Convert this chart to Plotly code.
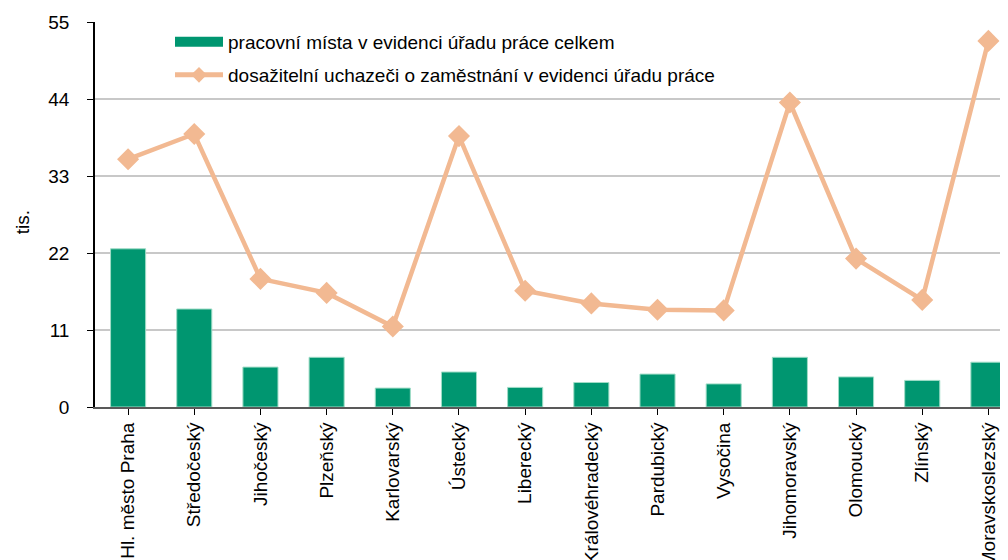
import plotly.graph_objects as go

categories = ["Hl. město Praha", "Středočeský", "Jihočeský", "Plzeňský", "Karlovarský",
              "Ústecký", "Liberecký", "Královéhradecký", "Pardubický", "Vysočina",
              "Jihomoravský", "Olomoucký", "Zlínský", "Moravskoslezský"]
pracovni_mista = [22.6, 14.0, 5.7, 7.1, 2.7, 5.0, 2.8, 3.5, 4.7, 3.3, 7.1, 4.3, 3.8, 6.4]
uchazeci = [35.4, 39.0, 18.3, 16.3, 11.5, 38.7, 16.6, 14.8, 13.9, 13.8, 43.5, 21.2, 15.3, 52.3]
y_ticks = [0, 11, 22, 33, 44, 55]

name_bar = "pracovní místa v evidenci úřadu práce celkem"
name_line = "dosažitelní uchazeči o zaměstnání v evidenci úřadu práce"

FONT = "Liberation Sans, Arial, sans-serif"
GREEN = "#009670"
PEACH = "#f2b992"
x_idx = list(range(len(categories)))

fig = go.Figure()
fig.add_trace(go.Bar(
    x=x_idx, y=pracovni_mista, name=name_bar, width=0.53,
    marker=dict(color=GREEN, line=dict(color="#9fdcc6", width=1)),
    showlegend=False,
))
# legend entry for the bars (wide rectangle swatch like the original)
fig.add_trace(go.Scatter(
    x=[None], y=[None], name=name_bar, mode="lines",
    line=dict(color=GREEN, width=12), legend="legend", hoverinfo="skip",
))
fig.add_trace(go.Scatter(
    x=x_idx, y=uchazeci, name=name_line, mode="lines+markers",
    line=dict(color=PEACH, width=4.5),
    marker=dict(symbol="diamond", size=17, color=PEACH),
    legend="legend2",
))

W, H = 1008, 560
ml, mt, mb, mr = 87, 14, 161, 8
pw = W - ml - mr
ph = H - mt - mb
leg_x = (162 - ml) / pw

fig.update_layout(
    width=W, height=H,
    margin=dict(l=ml, r=mr, t=mt, b=mb),
    paper_bgcolor="white", plot_bgcolor="white",
    font=dict(family=FONT, size=19, color="#000000"),
    legend=dict(x=leg_x, y=(399 - 34) / ph, xanchor="left", yanchor="middle",
                bgcolor="rgba(0,0,0,0)", font=dict(size=19), itemwidth=48),
    legend2=dict(x=leg_x, y=(399 - 67) / ph, xanchor="left", yanchor="middle",
                 bgcolor="rgba(0,0,0,0)", font=dict(size=19), itemwidth=48,
                 itemsizing="constant"),
    showlegend=True,
    annotations=[dict(text="tis.", x=(14 - ml) / pw, y=0.48,
                      xref="paper", yref="paper", showarrow=False, textangle=-90,
                      font=dict(size=19), xanchor="center", yanchor="middle")],
)

fig.update_xaxes(
    tickmode="array", tickvals=x_idx, ticktext=categories,
    range=[-0.5, 13.296],
    tickangle=-90, showgrid=False,
    showline=True, linecolor="#595959", linewidth=2,
    ticks="outside", tickson="boundaries", ticklen=6, tickcolor="#000000", tickwidth=1,
    tickfont=dict(size=19), automargin=False, zeroline=False,
)
fig.update_yaxes(
    range=[0, 55], tickmode="array", tickvals=y_ticks,
    showgrid=True, gridcolor="#c8c8c8", gridwidth=1.5,
    showline=True, linecolor="#000000", linewidth=1.5,
    ticks="outside", ticklen=6, tickcolor="#000000", tickwidth=1,
    tickfont=dict(size=19), zeroline=False, automargin=False,
    ticklabelstandoff=14,
)

fig.write_html("out.html")
